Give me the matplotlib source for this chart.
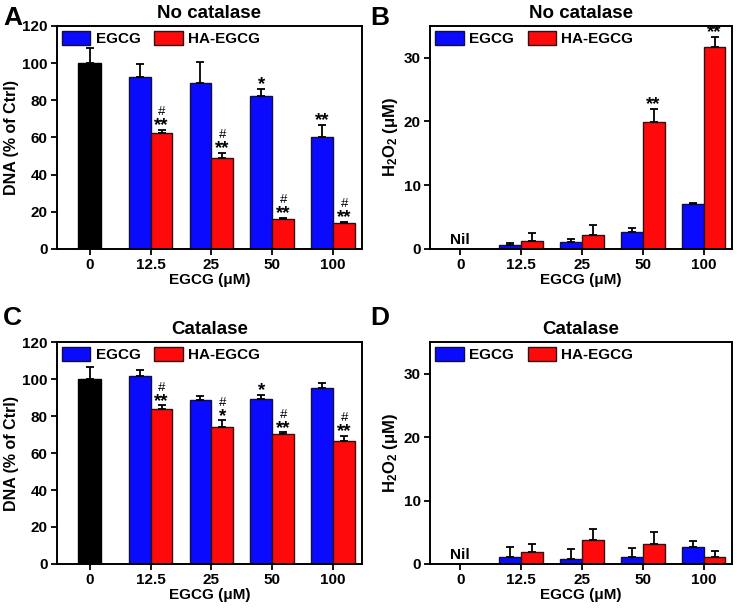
import matplotlib
matplotlib.use('Agg')
import matplotlib.pyplot as plt
import numpy as np

plt.rcParams['font.family'] = 'Liberation Sans'
plt.rcParams['font.weight'] = 'bold'
plt.rcParams['axes.labelweight'] = 'bold'
plt.rcParams['axes.titleweight'] = 'bold'
plt.rcParams['mathtext.fontset'] = 'custom'
plt.rcParams['mathtext.rm'] = 'Liberation Sans:bold'
plt.rcParams['mathtext.default'] = 'rm'

doses = ['0', '12.5', '25', '50', '100']

# A: DNA, no catalase
ctrl_a, ctrl_a_err = 100, 8
egcg_a = [92.7, 89.4, 82.0, 60.1]
egcg_a_err = [7.0, 11.0, 4.3, 6.5]
ha_a = [62.6, 48.7, 16.3, 14.1]
ha_a_err = [1.5, 3.0, 0.5, 0.5]
star_egcg_a = ['', '', '*', '**']
star_ha_a = ['**', '**', '**', '**']
hash_ha_a = [True, True, True, True]

# B: H2O2, no catalase
egcg_b = [0.7, 1.1, 2.6, 7.0]
egcg_b_err = [0.25, 0.45, 0.7, 0.2]
ha_b = [1.3, 2.25, 19.95, 31.7]
ha_b_err = [1.2, 1.55, 2.0, 1.6]
star_egcg_b = ['', '', '', '']
star_ha_b = ['', '', '**', '**']
hash_ha_b = [False, False, False, False]

# C: DNA, catalase
ctrl_c, ctrl_c_err = 100, 6.6
egcg_c = [101.4, 88.8, 89.0, 95.0]
egcg_c_err = [3.6, 2.2, 2.6, 3.0]
ha_c = [83.6, 74.1, 70.2, 66.4]
ha_c_err = [2.1, 3.5, 0.9, 2.8]
star_egcg_c = ['', '', '*', '']
star_ha_c = ['**', '*', '**', '**']
hash_ha_c = [True, True, True, True]

# D: H2O2, catalase
egcg_d = [1.04, 0.83, 1.04, 2.7]
egcg_d_err = [1.56, 1.47, 1.46, 0.95]
ha_d = [1.9, 3.75, 3.2, 1.04]
ha_d_err = [1.2, 1.75, 1.8, 0.96]
star_egcg_d = ['', '', '', '']
star_ha_d = ['', '', '', '']
hash_ha_d = [False, False, False, False]

blue = '#0a0aff'
red = '#ff0a0a'
w = 0.36
x = np.arange(1, 5)


def mark(ax, xp, top, star, has_hash):
    if star:
        ax.annotate(star, (xp, top), xytext=(0, -3), textcoords='offset points',
                    ha='center', va='bottom', fontsize=13.5)
    if has_hash:
        ax.annotate('#', (xp, top), xytext=(0, 8.5), textcoords='offset points',
                    ha='center', va='bottom', fontsize=9.5, fontweight='normal')


def panel(ax, egcg, egcg_err, ha, ha_err, s_e, s_h, h_h, ctrl=None, ctrl_err=None):
    if ctrl is not None:
        ax.bar(0, ctrl, 0.37, color='black', edgecolor='black', lw=1, zorder=2)
        ax.errorbar(0, ctrl, yerr=[[0], [ctrl_err]], fmt='none', ecolor='black',
                    elinewidth=1.3, capsize=3.2, capthick=1.3, zorder=3)
    ax.bar(x - w / 2, egcg, w, color=blue, edgecolor='#101040', lw=1, zorder=2, label='EGCG')
    ax.bar(x + w / 2, ha, w, color=red, edgecolor='#301010', lw=1, zorder=2, label='HA-EGCG')
    ax.errorbar(x - w / 2, egcg, yerr=[np.zeros(4), egcg_err], fmt='none', ecolor='black',
                elinewidth=1.3, capsize=3.2, capthick=1.3, zorder=3)
    ax.errorbar(x + w / 2, ha, yerr=[np.zeros(4), ha_err], fmt='none', ecolor='black',
                elinewidth=1.3, capsize=3.2, capthick=1.3, zorder=3)
    for i in range(4):
        mark(ax, x[i] - w / 2, egcg[i] + egcg_err[i], s_e[i], False)
        mark(ax, x[i] + w / 2, ha[i] + ha_err[i], s_h[i], h_h[i])
    ax.set_xticks(range(5))
    ax.set_xticklabels(doses)
    ax.set_xlabel('EGCG (μM)', fontsize=11, labelpad=1)
    ax.tick_params(direction='out', length=4, width=1.3, labelsize=11, pad=2.5)
    for s in ax.spines.values():
        s.set_linewidth(1.4)
    ax.legend(loc='upper left', ncol=2, frameon=False, fontsize=11,
              handlelength=1.85, handleheight=1.0, handletextpad=0.35,
              columnspacing=0.9, borderaxespad=0.15, borderpad=0.2)


fig = plt.figure(figsize=(7.37, 6.08), dpi=100)
axA = fig.add_axes([0.077, 0.5905, 0.414, 0.367])
axB = fig.add_axes([0.5834, 0.5905, 0.41, 0.367])
axC = fig.add_axes([0.077, 0.0724, 0.414, 0.365])
axD = fig.add_axes([0.5834, 0.0724, 0.41, 0.365])

panel(axA, egcg_a, egcg_a_err, ha_a, ha_a_err, star_egcg_a, star_ha_a, hash_ha_a, ctrl_a, ctrl_a_err)
panel(axB, egcg_b, egcg_b_err, ha_b, ha_b_err, star_egcg_b, star_ha_b, hash_ha_b)
panel(axC, egcg_c, egcg_c_err, ha_c, ha_c_err, star_egcg_c, star_ha_c, hash_ha_c, ctrl_c, ctrl_c_err)
panel(axD, egcg_d, egcg_d_err, ha_d, ha_d_err, star_egcg_d, star_ha_d, hash_ha_d)

for ax in (axA, axC):
    ax.set_xlim(-0.54, 4.47)
    ax.set_ylim(0, 120)
    ax.set_yticks(range(0, 121, 20))
    ax.set_ylabel('DNA (% of Ctrl)', fontsize=11.5, labelpad=2)
for ax in (axB, axD):
    ax.set_xlim(-0.5, 4.47)
    ax.set_ylim(0, 35)
    ax.set_yticks([0, 10, 20, 30])
    ax.set_ylabel('H$_2$O$_2$ (μM)', fontsize=12, labelpad=3)
    ax.text(0, 0.3, 'Nil', ha='center', va='bottom', fontsize=11)

axA.set_title('No catalase', fontsize=13.5, pad=6)
axB.set_title('No catalase', fontsize=13.5, pad=6)
axC.set_title('Catalase', fontsize=13.5, pad=6)
axD.set_title('Catalase', fontsize=13.5, pad=6)

fig.text(0.004, 0.99, 'A', fontsize=19, va='top')
fig.text(0.502, 0.99, 'B', fontsize=19, va='top')
fig.text(0.004, 0.496, 'C', fontsize=19, va='top')
fig.text(0.502, 0.496, 'D', fontsize=19, va='top')

fig.savefig('out.png', dpi=100)
